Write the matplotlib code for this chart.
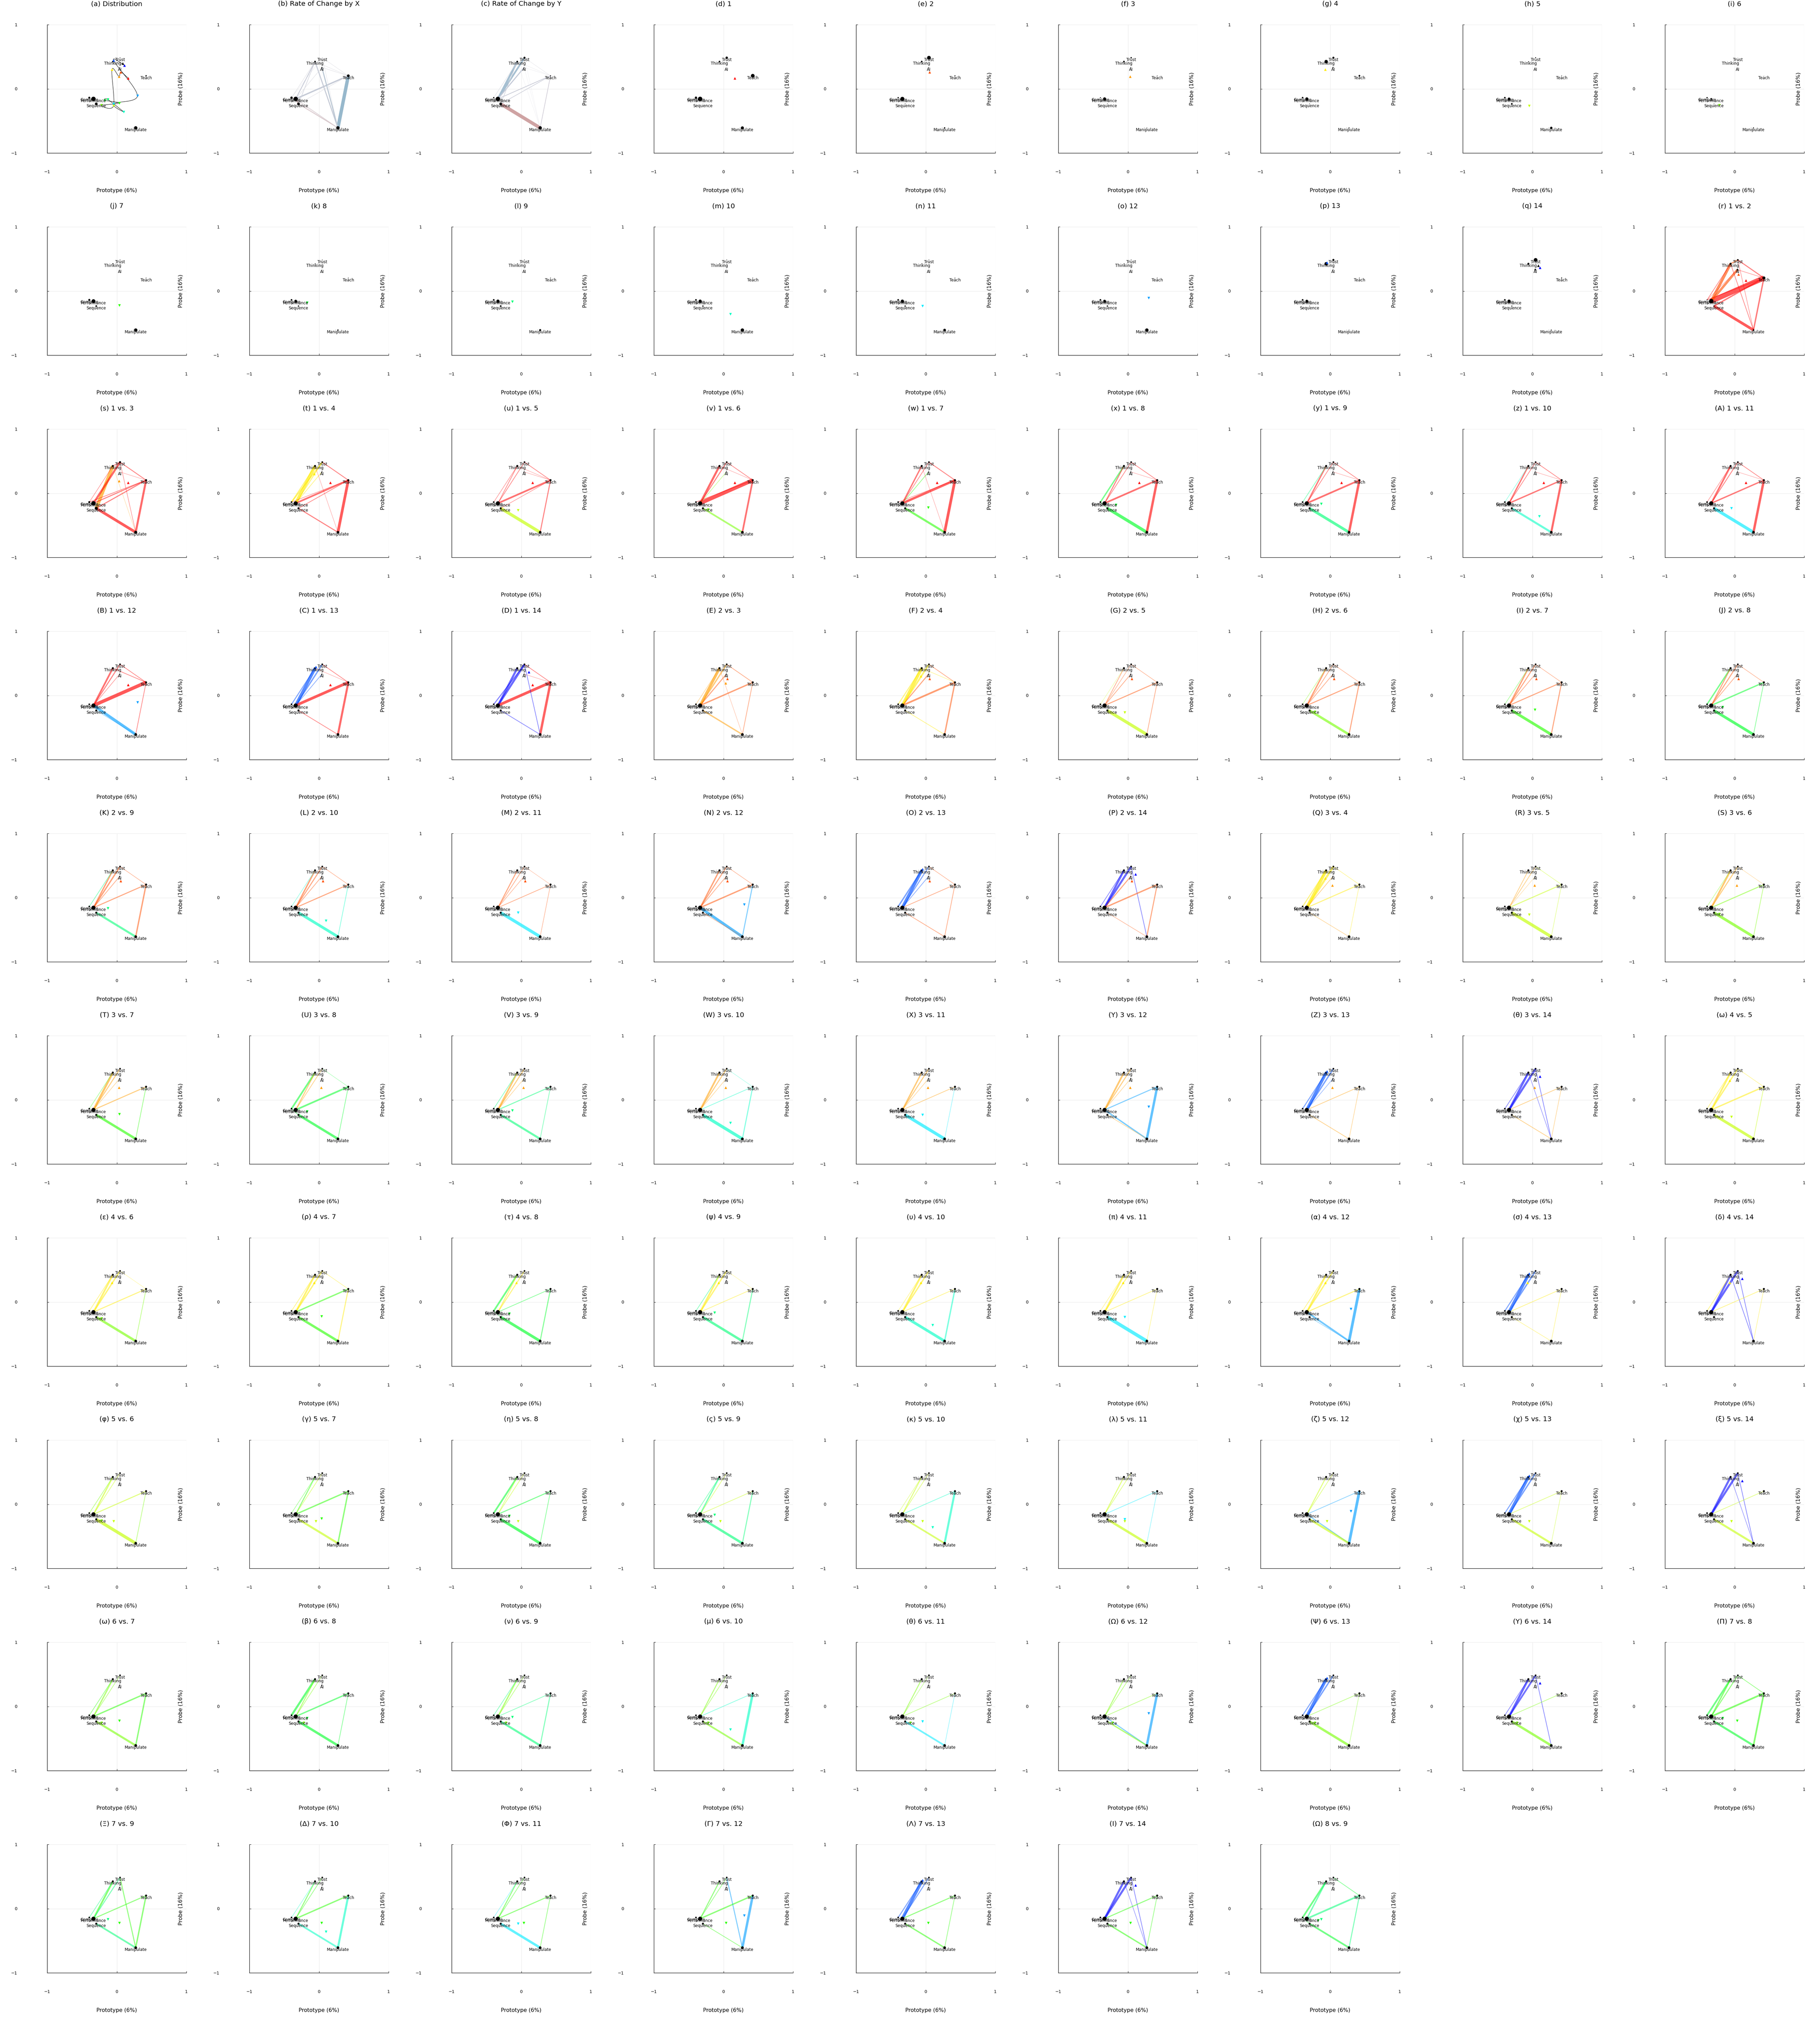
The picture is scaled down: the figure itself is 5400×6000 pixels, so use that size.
import matplotlib.pyplot as plt
import numpy as np
from matplotlib.path import Path
from matplotlib.patches import PathPatch

# palavras (nós) e posições no plano Prototype x Probe
palavras = ["Trust", "Thinking", "AI", "Teach", "Compare", "Performance", "Sequence", "Manipulate"]
siglas = ["Tr", "Th", "AI", "Te", "Co", "Pe", "Se", "Ma"]
palavraX = [0.047, -0.057, 0.042, 0.421, -0.395, -0.335, -0.295, 0.272]
palavraY = [0.484, 0.424, 0.332, 0.203, -0.139, -0.157, -0.235, -0.609]

# centróides dos 14 grupos
clusterX = [0.163, 0.058, 0.031, -0.070, -0.047, -0.220, 0.038, -0.172, -0.129, 0.099, -0.047, 0.296, -0.047, 0.110]
clusterY = [0.167, 0.261, 0.193, 0.300, -0.265, -0.257, -0.221, -0.181, -0.167, -0.358, -0.233, -0.107, 0.442, 0.366]
clusterCores = ["#ff0000", "#ff4f00", "#ff9d00", "#ffec00", "#c4ff00", "#76ff00", "#27ff00",
                "#00ff27", "#00ff76", "#00ffc4", "#00ecff", "#009dff", "#004fff", "#0000ff"]
extraX, extraY = 0.084, 0.398  # triângulo preto

letras = list("abcdefghijklmnopqrstuvwxyzABCDEFGHIJKLMNOPQRSTUVWXYZ") + \
    ["θ", "ω", "ε", "ρ", "τ", "ψ", "υ", "π", "α", "σ", "δ", "φ", "γ", "η", "ς", "κ", "λ", "ζ",
     "χ", "ξ", "ω", "β", "ν", "μ", "θ", "Ω", "Ψ", "Υ", "Π", "Ξ", "Δ", "Φ", "Γ", "Λ", "Ι", "Ω"]

pares = [(i, j) for i in range(1, 15) for j in range(i + 1, 15)][:71]
nomesPaineis = ["Distribution", "Rate of Change by X", "Rate of Change by Y"] + \
    [str(k) for k in range(1, 15)] + [f"{i} vs. {j}" for i, j in pares]

# diâmetro dos nós (px) por painel: Tr Th AI Te Co Pe Se Ma
tamanhosNos = [
    [2, 5, 2, 4, 6, 13, 8, 10], [1, 5, 3, 8, 7, 13, 8, 10], [6, 5, 2, 3, 4, 13, 8, 10],
    [7, 5, 1, 11, 7, 13, 1, 9], [11, 5, 2, 3, 4, 12, 2, 4], [4, 5, 2, 2, 3, 9, 2, 2],
    [6, 10, 3, 5, 5, 9, 2, 3], [3, 2, 1, 2, 5, 8, 5, 7], [1, 1, 1, 1, 4, 5, 2, 3],
    [2, 3, 1, 2, 6, 11, 5, 10], [2, 2, 1, 2, 5, 8, 4, 4], [2, 2, 1, 2, 5, 9, 5, 6],
    [2, 2, 1, 2, 5, 9, 4, 10], [2, 2, 1, 2, 5, 9, 4, 8], [2, 2, 1, 2, 5, 8, 4, 10],
    [6, 10, 2, 2, 5, 8, 2, 2], [11, 6, 5, 3, 5, 9, 3, 3],
    [5, 6, 5, 9, 3, 13, 4, 5], [6, 6, 1, 6, 6, 13, 9, 9],
] + [[5, 6, 3, 6, 5, 12, 6, 8]] * 69

# arestas por painel: "origem-destino:largura(px):cor" (a = primeiro grupo, b = segundo grupo)
arestas = [
    "",
    "Te-Ma:10:#97b8cc Pe-Te:4:#c5cad6 Th-Ma:3:#c5cad6 AI-Ma:3:#b9c6d3 Th-Pe:2.5:#c9ccd8 Th-Co:1:#dcdce2 "
    "Th-Se:1.5:#d0d2dc AI-Pe:1:#dcdce2 Tr-Te:0.8:#dcdce2 Th-Te:0.8:#dcdce2 AI-Te:1:#dcdce2 Co-Ma:1:#e2d6da "
    "Se-Ma:2:#d6c4c8 Pe-Se:2:#d0a8a8 Tr-Co:0.6:#e0e0e6 Pe-Ma:1.5:#d8ccd0 Tr-Ma:0.8:#dcdce2 Se-Te:1:#dcdce2",
    "Th-Pe:6:#a6bfd1 Tr-Pe:5:#a6bfd1 AI-Pe:3:#c2c8d6 Th-Co:1:#d8dae2 Se-Ma:10:#cfa3a3 Pe-Te:2:#c8cad6 "
    "Se-Te:1.5:#c8cad6 Te-Ma:1.5:#c9c4d0 Tr-Te:0.7:#dcdce2 Th-Te:0.5:#dcdce2 AI-Te:0.5:#dcdce2 "
    "Th-Se:1.5:#d0d2dc AI-Ma:0.5:#e4e4ea Th-Ma:0.5:#e4e4ea Tr-Ma:0.5:#e4e4ea",
] + [""] * 14 + [
    "Pe-Te:15:a Se-Te:4:a Se-Ma:8:a Te-Ma:4:a Tr-Te:3:a Th-Tr:4:b Th-Pe:8:b AI-Pe:7:b Co-Th:2:a "
    "AI-Te:1.5:a Th-Ma:2:a Tr-Ma:1.5:a Co-Te:2:a Co-AI:1:a",
    "Th-Se:10:b Tr-Pe:6:a Se-Ma:8:a Te-Ma:6:a Pe-Te:3:a Se-Te:3:a Co-Te:2:a Tr-Te:2.5:a Th-Tr:2.5:a "
    "Tr-Ma:1.5:a Th-Ma:1:b Co-Th:1.5:a AI-Te:1:a",
    "Th-Pe:9:b Tr-Co:4:b Th-Co:3:b Tr-Pe:3:b Te-Ma:8:a Pe-Te:5:a Tr-Te:2.5:a Se-Ma:3:a Se-Te:2:a AI-Pe:2:b Th-Ma:1:a Co-Te:1.5:a",
    "Se-Ma:9:b Pe-Te:5:a Te-Ma:3:a Tr-Te:2:a Th-Pe:2:a Tr-Pe:2:a Th-Te:1:a Co-Th:1.5:a AI-Te:1:a Se-Te:1.5:a",
    "Pe-Te:11:a Th-Pe:6:a Te-Ma:5:a Se-Ma:5:b Tr-Te:2:a Tr-Pe:3:a Co-Te:2:a Th-Te:1:a AI-Pe:1.5:b",
    "Te-Ma:8:a Pe-Te:7:a Se-Ma:6:b AI-Pe:2:b Th-Pe:4:a Tr-Te:2.5:a Tr-Pe:2:a Co-Te:1.5:a Th-Ma:1:a",
    "Co-Th:4:b Se-Ma:9:b Te-Ma:7:a Pe-Te:5:a Th-Pe:3:a Tr-Te:2:a Tr-Pe:2:a Co-Se:2:b AI-Te:1:a",
    "Se-Ma:8:b Te-Ma:7:a Pe-Te:5:a Th-Pe:4:a Tr-Te:2:a Co-Th:2:b Tr-Pe:2:a AI-Te:1:a",
    "Se-Ma:6:b Te-Ma:6:a Pe-Te:4:a Th-Pe:4:a Tr-Te:2:a Tr-Pe:2:a Co-Th:1.5:b AI-Te:1:a",
    "Se-Ma:9:b Te-Ma:7:a Pe-Te:4:a Th-Pe:5:a Tr-Te:2:a Tr-Pe:2.5:a Co-Th:1.5:a AI-Te:1:a",
    "Pe-Te:10:a Th-Pe:5:a Tr-Pe:3:a Pe-Ma:8:b Te-Ma:2:a Th-Te:2:a Tr-Te:2:a AI-Pe:1.5:a Se-Ma:1.5:b",
    "Th-Pe:9:b Tr-Pe:4:b Co-Th:3:b Pe-Te:8:a Te-Ma:6:a Se-Ma:2:a Tr-Te:2:a AI-Pe:2:b Th-Te:1:a",
    "Th-Pe:6:b Tr-Pe:6:b Tr-Co:3:b Pe-Te:8:a Te-Ma:7:a Tr-Ma:2:b Tr-Te:2:a Se-Ma:2:b AI-Te:1:a",
    "Th-Pe:8:b Tr-Pe:4:b AI-Pe:3:a Pe-Te:4:a Se-Ma:4:b Te-Ma:2:a Tr-Te:2:a Co-Th:1.5:b Th-Ma:1:a",
    "Th-Pe:9:b Tr-Pe:5:b Co-Th:3:b Pe-Te:5:a Te-Ma:4:a AI-Pe:3:a Tr-Te:2:a Se-Ma:2:b Th-Te:1.5:b",
    "Se-Ma:9:b Th-Pe:2:a Pe-Te:3:a Te-Ma:2:a Tr-Te:1.5:a AI-Pe:2:a Tr-Pe:1.5:a Co-Th:1:b",
    "Th-Pe:4:a Pe-Te:3:a Se-Ma:7:b Te-Ma:3:a Tr-Pe:2:a AI-Pe:2:a Co-Th:1.5:b Tr-Te:1.5:a",
    "Th-Pe:4:a Tr-Pe:3:a Se-Ma:8:b Pe-Te:3:a Te-Ma:3:a AI-Pe:2:a Co-Th:1.5:b Tr-Te:1.5:a",
    "Co-Th:4:b Se-Ma:8:b Th-Pe:3:a Tr-Pe:3:a Pe-Te:4:b Te-Ma:2:b AI-Pe:2:a Tr-Te:1.5:a",
    "Th-Pe:4:a Tr-Pe:4:a Se-Ma:6:b Te-Ma:4:a Pe-Te:3:a Co-Th:2:b AI-Pe:2:a Tr-Te:1.5:a",
    "Se-Ma:8:b Th-Pe:4:a Tr-Pe:3:a Pe-Te:3:a Te-Ma:2:b AI-Pe:2:a Co-Th:1.5:b Tr-Te:1.5:a",
    "Se-Ma:9:b Th-Pe:3:a Tr-Pe:2:a Pe-Te:2:a Te-Ma:1.5:a AI-Pe:1.5:a Tr-Te:1:a",
    "Pe-Ma:8:b Te-Ma:3:b Th-Pe:4:a Tr-Pe:3:a Pe-Te:4:a AI-Pe:2:a Tr-Te:1.5:a Se-Ma:1.5:a",
    "Th-Pe:9:b Co-Th:4:b Tr-Pe:3:b Pe-Te:2:a Te-Ma:2:a Se-Ma:2:a AI-Pe:2:b Tr-Te:1.5:a",
    "Th-Pe:6:b Tr-Pe:6:b Tr-Ma:2:b Pe-Te:4:a Te-Ma:3:a AI-Pe:3:a Co-Th:2:b Se-Ma:1.5:a",
    "Th-Pe:9:b Tr-Pe:6:b Co-Th:3:b Pe-Te:3:b Te-Ma:1.5:b Se-Ma:1.5:a AI-Pe:2:a Tr-Te:1.5:b",
    "Se-Ma:9:b Pe-Te:3:b Th-Pe:2:a Tr-Pe:2:a Te-Ma:1.5:b Tr-Te:1.5:b AI-Pe:1:a",
    "Th-Pe:5:a Tr-Pe:3:a Se-Ma:8:b Pe-Te:3:b Te-Ma:2:b Co-Th:1.5:b Tr-Te:1:a",
    "Th-Pe:6:a Tr-Pe:3:a Se-Ma:7:b Pe-Te:3:a Te-Ma:2:b Co-Th:1.5:b AI-Pe:1.5:a",
    "Co-Th:5:b Se-Ma:7:b Pe-Te:5:b Te-Ma:2:b Th-Pe:3:a Tr-Pe:2:a Co-Se:2:b Tr-Te:1:b",
    "Th-Pe:5:a Tr-Pe:3:a Se-Ma:6:b Pe-Te:3:b Te-Ma:2:b Co-Th:2:b AI-Pe:1.5:a",
    "Se-Ma:9:b Th-Pe:5:a Tr-Pe:3:a Te-Ma:3:b Pe-Te:2:b AI-Pe:1.5:a Tr-Te:1:b",
    "Se-Ma:9:b Th-Pe:4:a Tr-Pe:3:a Pe-Te:2:a Te-Ma:1.5:b AI-Pe:1.5:a",
    "Te-Ma:7:b Pe-Ma:4:b Th-Pe:5:a Tr-Pe:3:a Pe-Te:3:b AI-Pe:1.5:a Se-Ma:1.5:a",
    "Th-Pe:9:b Tr-Pe:4:b Co-Th:3:b Pe-Te:2:a Se-Ma:2:a Te-Ma:1.5:a AI-Pe:1.5:b",
    "Th-Pe:6:b Tr-Pe:6:b Tr-Ma:2:b Th-Ma:1.5:b Pe-Te:2:a Se-Ma:2:a Co-Th:2:b Te-Ma:1.5:a",
    "Th-Pe:5:a Tr-Pe:4:a Pe-Te:4:a Se-Ma:8:b Te-Ma:2:b Co-Th:2:a Tr-Te:1.5:a",
    "Th-Pe:5:a Tr-Pe:4:a Se-Ma:7:b Pe-Te:3:a Te-Ma:2:b Co-Th:2:a Tr-Te:1:a",
    "Th-Pe:5:a Tr-Pe:4:a Se-Ma:7:b Pe-Te:4:b Te-Ma:3:a Co-Th:2:a Tr-Te:1.5:a",
    "Co-Th:5:b Se-Ma:8:b Te-Ma:3:b Th-Pe:3:a Tr-Pe:3:a Pe-Te:2:b Co-Se:2:b",
    "Th-Pe:5:a Tr-Pe:4:a Se-Ma:7:b Te-Ma:3:b Pe-Te:2:a Co-Th:2:b Tr-Te:1:a",
    "Se-Ma:8:b Te-Ma:4:b Th-Pe:5:a Tr-Pe:4:a Pe-Te:2:a Co-Th:1.5:a",
    "Se-Ma:10:b Th-Pe:5:a Tr-Pe:3:a Pe-Te:2:a Te-Ma:1.5:a Co-Th:1.5:a",
    "Te-Ma:8:b Pe-Ma:5:b Th-Pe:5:a Tr-Pe:4:a Pe-Te:3:a Co-Th:2:a Se-Ma:1.5:b",
    "Th-Pe:9:b Tr-Pe:4:b Co-Th:3:b Pe-Te:2:a Te-Ma:1.5:a Se-Ma:1.5:a",
    "Th-Pe:6:b Tr-Pe:6:b Tr-Ma:2:b Th-Ma:2:b Pe-Te:2:a Co-Th:2:a Te-Ma:1.5:a",
    "Se-Ma:9:a Th-Pe:4:a Tr-Pe:2:a Pe-Te:3:a Te-Ma:2:b Co-Th:2:b",
    "Se-Ma:6:a Te-Ma:4:b Pe-Te:4:b Th-Pe:3:b Tr-Pe:2:a Co-Th:1.5:b",
    "Co-Th:5:b Se-Ma:8:b Pe-Te:3:b Te-Ma:2:b Th-Pe:2:a Tr-Pe:2:a",
    "Se-Ma:7:b Th-Pe:4:b Te-Ma:3:b Pe-Te:2:a Co-Th:2:b Tr-Pe:2:a",
    "Se-Ma:5:a Te-Ma:6:b Pe-Te:2:b Th-Pe:3:a Tr-Pe:2:a Co-Th:1.5:a",
    "Se-Ma:7:a Pe-Te:2:b Th-Pe:3:a Te-Ma:1.5:b Tr-Pe:2:a",
    "Te-Ma:8:b Pe-Ma:3:b Se-Ma:6:a Th-Pe:3:a Tr-Pe:2:a Pe-Te:2:b",
    "Th-Pe:9:b Tr-Pe:4:b Co-Th:3:b Se-Ma:6:a Pe-Te:2:a Te-Ma:1.5:a",
    "Th-Pe:6:b Tr-Pe:6:b Tr-Ma:2:b Se-Ma:6:a Pe-Te:2:a Th-Ma:1.5:b",
    "Th-Pe:4:a Se-Ma:6:a Te-Ma:4:b Pe-Te:4:b Tr-Pe:2:a Co-Th:2:b",
    "Co-Th:6:b Se-Ma:7:b Pe-Te:4:b Th-Pe:3:a Te-Ma:2:b Tr-Pe:2:a",
    "Se-Ma:6:b Th-Pe:4:a Pe-Te:2:b Te-Ma:3:b Co-Th:2:b Tr-Pe:2:a",
    "Te-Ma:7:b Se-Ma:5:a Th-Pe:3:a Pe-Te:2:b Tr-Pe:2:a",
    "Se-Ma:5:b Th-Pe:3:a Pe-Te:2:a Te-Ma:1.5:b Tr-Pe:1.5:a",
    "Te-Ma:7:b Pe-Ma:3:b Se-Ma:4:a Th-Pe:3:a Pe-Te:2:a Tr-Pe:2:a",
    "Th-Pe:9:b Tr-Pe:4:b Co-Th:3:b Se-Ma:7:a Pe-Te:2:a Te-Ma:1.5:a",
    "Th-Pe:6:b Tr-Pe:5:b Tr-Ma:2:b Se-Ma:7:a Pe-Te:2:a Co-Th:2:b",
    "Co-Th:5:b Se-Ma:6:b Pe-Te:5:a Te-Ma:5:a Th-Pe:4:a Tr-Pe:3:a Co-Se:2:b Tr-Te:2:a",
    "Th-Pe:5:a Tr-Ma:3:a Se-Ma:5:b Te-Ma:4:a Pe-Te:3:a Tr-Pe:3:b Co-Th:2:b",
    "Te-Ma:6:b Se-Ma:5:b Pe-Te:4:a Th-Pe:3:a Tr-Pe:2:a Co-Th:1.5:b",
    "Se-Ma:7:b Pe-Te:3:a Th-Pe:3:a Te-Ma:2:a Tr-Pe:2:a Co-Th:1.5:b",
    "Te-Ma:7:b Tr-Ma:3:b Pe-Te:4:a Th-Pe:3:a Se-Ma:2:a Tr-Pe:2:a",
    "Th-Pe:9:b Co-Th:3:b Tr-Pe:3:b Se-Ma:4:a Pe-Te:3:a Te-Ma:2:a",
    "Th-Pe:6:b Tr-Pe:6:b Tr-Ma:2:b Th-Ma:1.5:b Se-Ma:4:a Pe-Te:3:a Te-Ma:2:a",
    "Co-Th:5:a Pe-Te:5:b Se-Ma:5:a Th-Pe:4:b Te-Ma:3:b Tr-Te:2:a Co-Se:2:a",
]


def bezierCatmull(xs, ys):
    pts = np.column_stack([xs, ys])
    pts = np.vstack([pts[0], pts, pts[-1]])
    verts = [pts[1]]
    codes = [Path.MOVETO]
    for i in range(1, len(pts) - 2):
        c1 = pts[i] + (pts[i + 1] - pts[i - 1]) / 6
        c2 = pts[i + 1] - (pts[i + 2] - pts[i]) / 6
        verts += [c1, c2, pts[i + 1]]
        codes += [Path.CURVE4] * 3
    return Path(verts, codes)


def desenhaPainel(ax, k):
    ax.set_xlim(-1, 1)
    ax.set_ylim(-1, 1)
    ax.set_xticks([-1, 0, 1])
    ax.set_yticks([-1, 0, 1])
    ax.grid(True, color="#ececec", lw=1.0)
    ax.set_axisbelow(True)
    for lado in ["top", "right"]:
        ax.spines[lado].set_visible(False)
    for lado in ["left", "bottom"]:
        ax.spines[lado].set_linewidth(0.9)
    ax.tick_params(axis="both", direction="in", length=3.6, width=0.7, labelsize=9)
    ax.tick_params(axis="x", pad=36)
    ax.tick_params(axis="y", pad=64)
    ax.set_title(f"({letras[k]}) {nomesPaineis[k]}", fontsize=14.5, pad=40)
    ax.set_xlabel("Prototype (6%)", fontsize=11.5)
    ax.xaxis.set_label_coords(0.5, -0.273)
    ax.set_ylabel("Probe (16%)", fontsize=11.5, va="center")
    ax.yaxis.set_label_coords(0.959, 0.5)

    # grupos envolvidos
    if k == 0:
        grupos = list(range(14))
    elif 3 <= k < 17:
        grupos = [k - 3]
    elif k >= 17:
        grupos = [pares[k - 17][0] - 1, pares[k - 17][1] - 1]
    else:
        grupos = []

    # arestas
    for item in arestas[k].split():
        par, larg, cor = item.split(":")
        o, d = par.split("-")
        io, idd = siglas.index(o), siglas.index(d)
        larg = float(larg)
        if cor in ("a", "b"):
            cor = clusterCores[grupos[0] if cor == "a" else grupos[1]]
            alfa = min(0.4 + 0.03 * larg, 0.65)
        else:
            alfa = 1.0
        ax.plot([palavraX[io], palavraX[idd]], [palavraY[io], palavraY[idd]], color=cor, alpha=alfa,
                lw=larg * 0.72, solid_capstyle="butt", zorder=2)

    # trajetória
    if k == 0:
        ax.add_patch(PathPatch(bezierCatmull(clusterX, clusterY), fill=False, color="black", lw=0.75, zorder=3))

    # nós
    tam = np.array(tamanhosNos[k]) * 0.72
    ax.scatter(palavraX, palavraY, s=tam ** 2, c="black", linewidths=0, zorder=4)
    for i, p in enumerate(palavras):
        ax.annotate(p, (palavraX[i], palavraY[i]), xytext=(0, -4.5), textcoords="offset points",
                    ha="center", va="center", fontsize=8.5, zorder=6)

    # centróides
    if k in (0, 16):
        ax.scatter([extraX], [extraY], marker="^", s=30, c="black", linewidths=0, zorder=5)
    for g in grupos:
        marcador = "^" if clusterY[g] > 0 else "v"
        ax.scatter([clusterX[g]], [clusterY[g]], marker=marcador, s=30, c=clusterCores[g],
                   linewidths=0, zorder=5)


fig = plt.figure(figsize=(54, 60), dpi=100)
for k in range(len(nomesPaineis)):
    linha, coluna = k // 9, k % 9
    ax = fig.add_axes([(coluna * 600 + 140) / 5400, 1 - (linha * 600 + 454) / 6000, 413 / 5400, 381 / 6000])
    desenhaPainel(ax, k)

fig.savefig("out.png", dpi=100, facecolor="white")
plt.close()
